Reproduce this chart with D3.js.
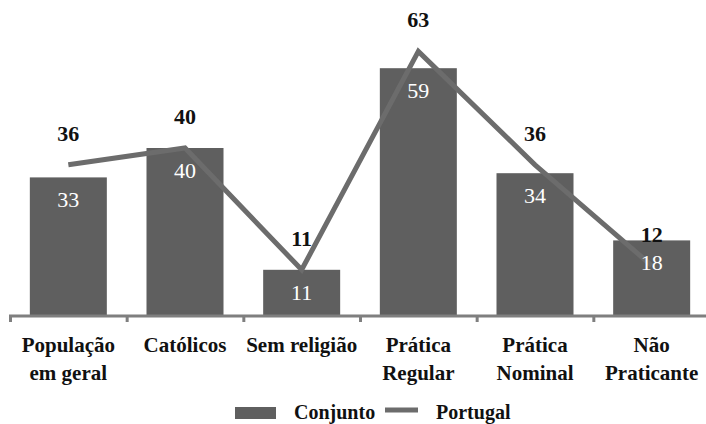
<!DOCTYPE html>
<html>
<head>
<meta charset="utf-8">
<script src="https://cdn.jsdelivr.net/npm/d3@7"></script>
</head>
<body style="margin:0">
<svg id="chart" width="706" height="424"></svg>
<script>
// Religious-practice groups
const categories = [
  ["População", "em geral"],
  ["Católicos"],
  ["Sem religião"],
  ["Prática", "Regular"],
  ["Prática", "Nominal"],
  ["Não", "Praticante"]
];
const conjunto = [33, 40, 11, 59, 34, 18];
const portugal = [36, 40, 11, 63, 36, 12];
const seriesNames = ["Conjunto", "Portugal"];

const barColor = "#5f5f5f";
const lineColor = "#6c6c6c";
const axisColor = "#7f7f7f";
const serif = "'Times New Roman', 'Liberation Serif', Georgia, 'Noto Serif', serif";

const svg = d3.select("#chart").style("font-family", serif);
const keys = categories.map((c, i) => i);

const x = d3.scaleBand().domain(keys).range([10, 710]).paddingInner(0).paddingOuter(0);
const y = d3.scaleLinear().domain([0, 70]).range([316, 22]);
const barW = x.bandwidth() * 0.66;
const cx = i => x(i) + x.bandwidth() / 2;

// Bars
svg.append("g").selectAll("rect").data(conjunto).join("rect")
  .attr("x", (d, i) => cx(i) - barW / 2)
  .attr("y", d => y(d))
  .attr("width", barW)
  .attr("height", d => y(0) - y(d))
  .attr("fill", barColor);

// Category axis
const axisG = svg.append("g").attr("transform", `translate(0,${y(0)})`);
axisG.append("line")
  .attr("x1", 9).attr("x2", 706).attr("y1", 0).attr("y2", 0)
  .attr("stroke", axisColor).attr("stroke-width", 3);
axisG.selectAll("line.tick").data(keys).join("line")
  .attr("class", "tick")
  .attr("x1", d => x(d) + 0.5).attr("x2", d => x(d) + 0.5)
  .attr("y1", 0).attr("y2", 6)
  .attr("stroke", axisColor).attr("stroke-width", 3);

// Category labels, one text per line
categories.forEach((lines, i) => {
  lines.forEach((t, j) => {
    svg.append("text")
      .attr("x", cx(i))
      .attr("y", 352 + j * 28)
      .attr("text-anchor", "middle")
      .style("font-family", serif)
      .style("font-size", "21px")
      .style("font-weight", "700")
      .attr("fill", "#111")
      .text(t);
  });
});

// Portugal line
const line = d3.line().x((d, i) => cx(i)).y(d => y(d));
svg.append("path")
  .datum(portugal)
  .attr("d", line)
  .attr("fill", "none")
  .attr("stroke", lineColor)
  .attr("stroke-width", 5)
  .attr("stroke-linejoin", "miter");

// Bar value labels
svg.append("g").selectAll("text").data(conjunto).join("text")
  .attr("x", (d, i) => cx(i))
  .attr("y", d => y(d) + 30)
  .attr("text-anchor", "middle")
  .style("font-family", serif)
  .style("font-size", "22px")
  .attr("fill", "#fff")
  .text(d => d);

// Line value labels
svg.append("g").selectAll("text").data(portugal).join("text")
  .attr("x", (d, i) => cx(i))
  .attr("y", d => y(d) - 24)
  .attr("text-anchor", "middle")
  .style("font-family", serif)
  .style("font-size", "22px")
  .style("font-weight", "700")
  .attr("fill", "#111")
  .text(d => d);

// Legend
const leg = svg.append("g");
leg.append("rect").attr("x", 235).attr("y", 407).attr("width", 41).attr("height", 12).attr("fill", barColor);
leg.append("text").attr("x", 294).attr("y", 419)
  .style("font-family", serif).style("font-size", "20px").style("font-weight", "700")
  .attr("fill", "#111").text(seriesNames[0]);
leg.append("line").attr("x1", 385).attr("x2", 418).attr("y1", 410).attr("y2", 410)
  .attr("stroke", lineColor).attr("stroke-width", 5);
leg.append("text").attr("x", 436).attr("y", 419)
  .style("font-family", serif).style("font-size", "20px").style("font-weight", "700")
  .attr("fill", "#111").text(seriesNames[1]);
</script>
</body>
</html>
